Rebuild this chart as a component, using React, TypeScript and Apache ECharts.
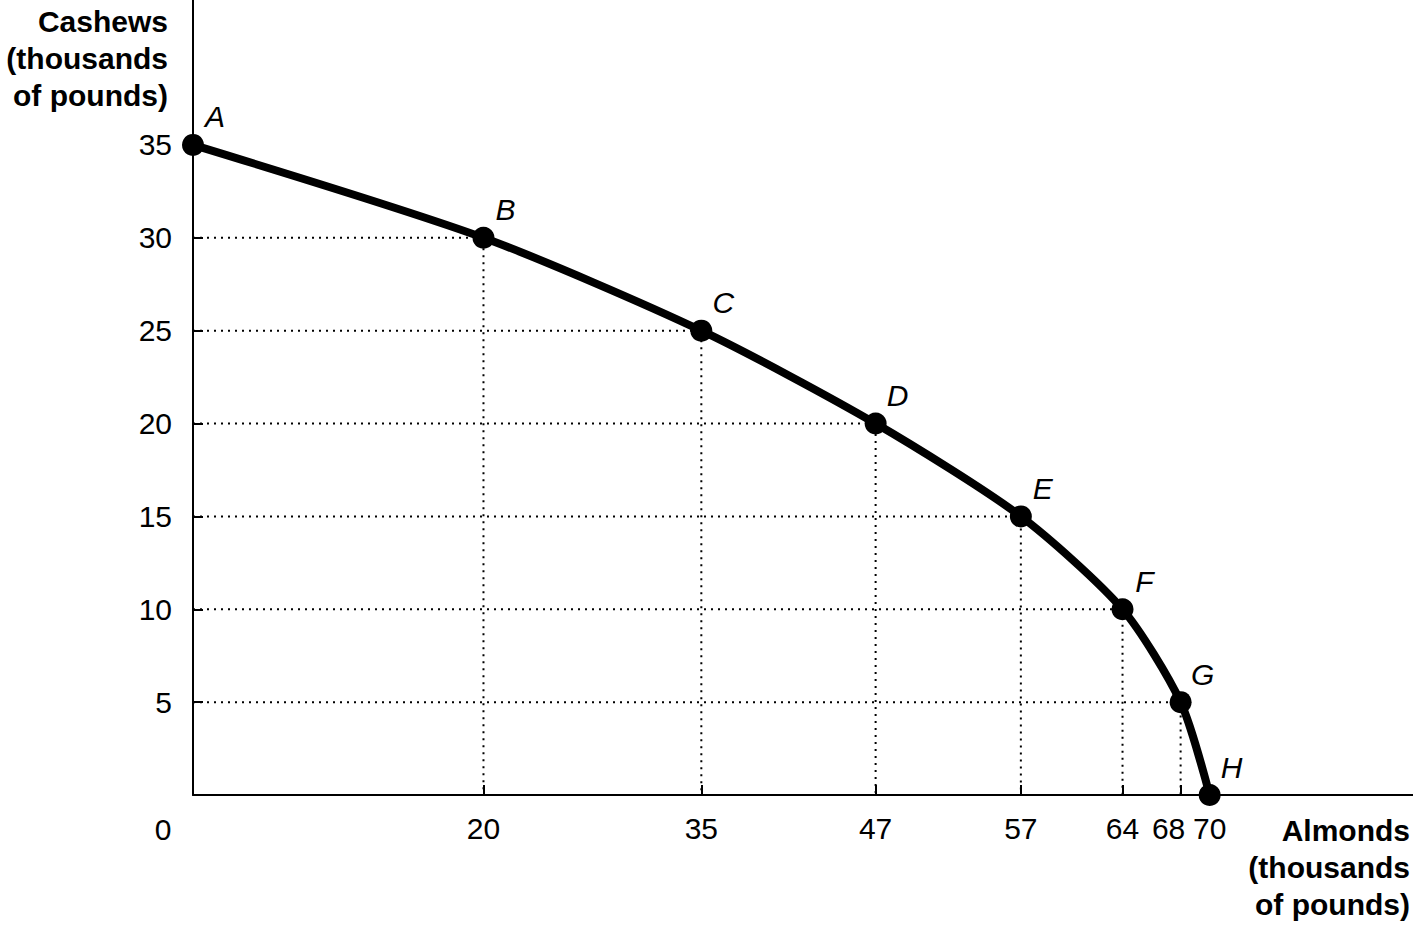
import React, { useEffect, useRef } from "react";
import * as echarts from "echarts";

const pointNames = ["A", "B", "C", "D", "E", "F", "G", "H"];
const almonds = [0, 20, 35, 47, 57, 64, 68, 70];
const cashews = [35, 30, 25, 20, 15, 10, 5, 0];
const xTickValues = [20, 35, 47, 57, 64, 68, 70];
const yTickValues = [5, 10, 15, 20, 25, 30, 35];
const yTitle = "Cashews\n(thousands\nof pounds)";
const xTitle = "Almonds\n(thousands\nof pounds)";
const originLabel = "0";

const FONT = "Liberation Sans, Arial, Helvetica, sans-serif";

export default function App() {
  const ref = useRef<HTMLDivElement>(null);
  useEffect(() => {
    if (!ref.current) return;
    const chart = echarts.init(ref.current, null, { renderer: "svg" });

    const guideSeries = almonds
      .map((a, i) => ({ a, c: cashews[i] }))
      .filter((p) => p.a > 0 && p.c > 0)
      .map((p) => ({
        type: "line",
        silent: true,
        symbol: "none",
        z: 1,
        lineStyle: { color: "#000", width: 2, type: [2, 5] },
        data: [
          [0, p.c],
          [p.a, p.c],
          [p.a, 0],
        ],
      }));

    chart.setOption({
      animation: false,
      backgroundColor: "#fff",
      grid: { left: 193, right: 0, top: 0, bottom: 130, containLabel: false },
      xAxis: {
        type: "value",
        min: 0,
        max: 84,
        splitLine: { show: false },
        axisLine: { show: true, onZero: false, lineStyle: { color: "#000", width: 2 } },
        axisTick: {
          show: true,
          inside: true,
          length: 10,
          customValues: xTickValues,
          lineStyle: { color: "#000", width: 2 },
        },
        axisLabel: {
          customValues: xTickValues,
          hideOverlap: false,
          color: "#000",
          fontFamily: FONT,
          fontSize: 30,
          margin: 18,
          formatter: (v: number) => (v === 68 ? "{shift|" + v + "}" : String(v)),
          rich: {
            shift: {
              color: "#000",
              fontFamily: FONT,
              fontSize: 30,
              padding: [0, 24, 0, 0],
            },
          },
        },
      },
      yAxis: {
        type: "value",
        min: 0,
        max: 42.8,
        splitLine: { show: false },
        axisLine: { show: true, onZero: false, lineStyle: { color: "#000", width: 2 } },
        axisTick: {
          show: true,
          inside: true,
          length: 10,
          customValues: yTickValues,
          lineStyle: { color: "#000", width: 2 },
        },
        axisLabel: {
          customValues: yTickValues,
          color: "#000",
          fontFamily: FONT,
          fontSize: 30,
          margin: 21,
        },
      },
      graphic: [
        {
          type: "text",
          x: 168,
          y: 3,
          style: {
            text: yTitle,
            fontFamily: FONT,
            fontWeight: "bold",
            fontSize: 30,
            fill: "#000",
            align: "right",
            verticalAlign: "top",
            lineHeight: 37,
          },
        },
        {
          type: "text",
          x: 1410,
          y: 812,
          style: {
            text: xTitle,
            fontFamily: FONT,
            fontWeight: "bold",
            fontSize: 30,
            fill: "#000",
            align: "right",
            verticalAlign: "top",
            lineHeight: 37,
          },
        },
        {
          type: "text",
          x: 163,
          y: 814,
          style: {
            text: originLabel,
            fontFamily: FONT,
            fontSize: 30,
            fill: "#000",
            align: "center",
            verticalAlign: "top",
          },
        },
      ],
      series: [
        ...guideSeries,
        {
          type: "line",
          z: 5,
          smooth: 0.25,
          symbol: "circle",
          symbolSize: 22,
          itemStyle: { color: "#000" },
          lineStyle: { color: "#000", width: 8 },
          label: {
            show: true,
            position: "inside",
            offset: [22, -28],
            formatter: (p: any) => pointNames[p.dataIndex],
            color: "#000",
            fontFamily: FONT,
            fontStyle: "italic",
            fontSize: 30,
          },
          data: almonds.map((a, i) => [a, cashews[i]]),
        },
      ],
    });
    return () => chart.dispose();
  }, []);
  return (
    <div
      ref={ref}
      style={{ position: "fixed", left: 0, top: 0, width: 1413, height: 925 }}
    />
  );
}
